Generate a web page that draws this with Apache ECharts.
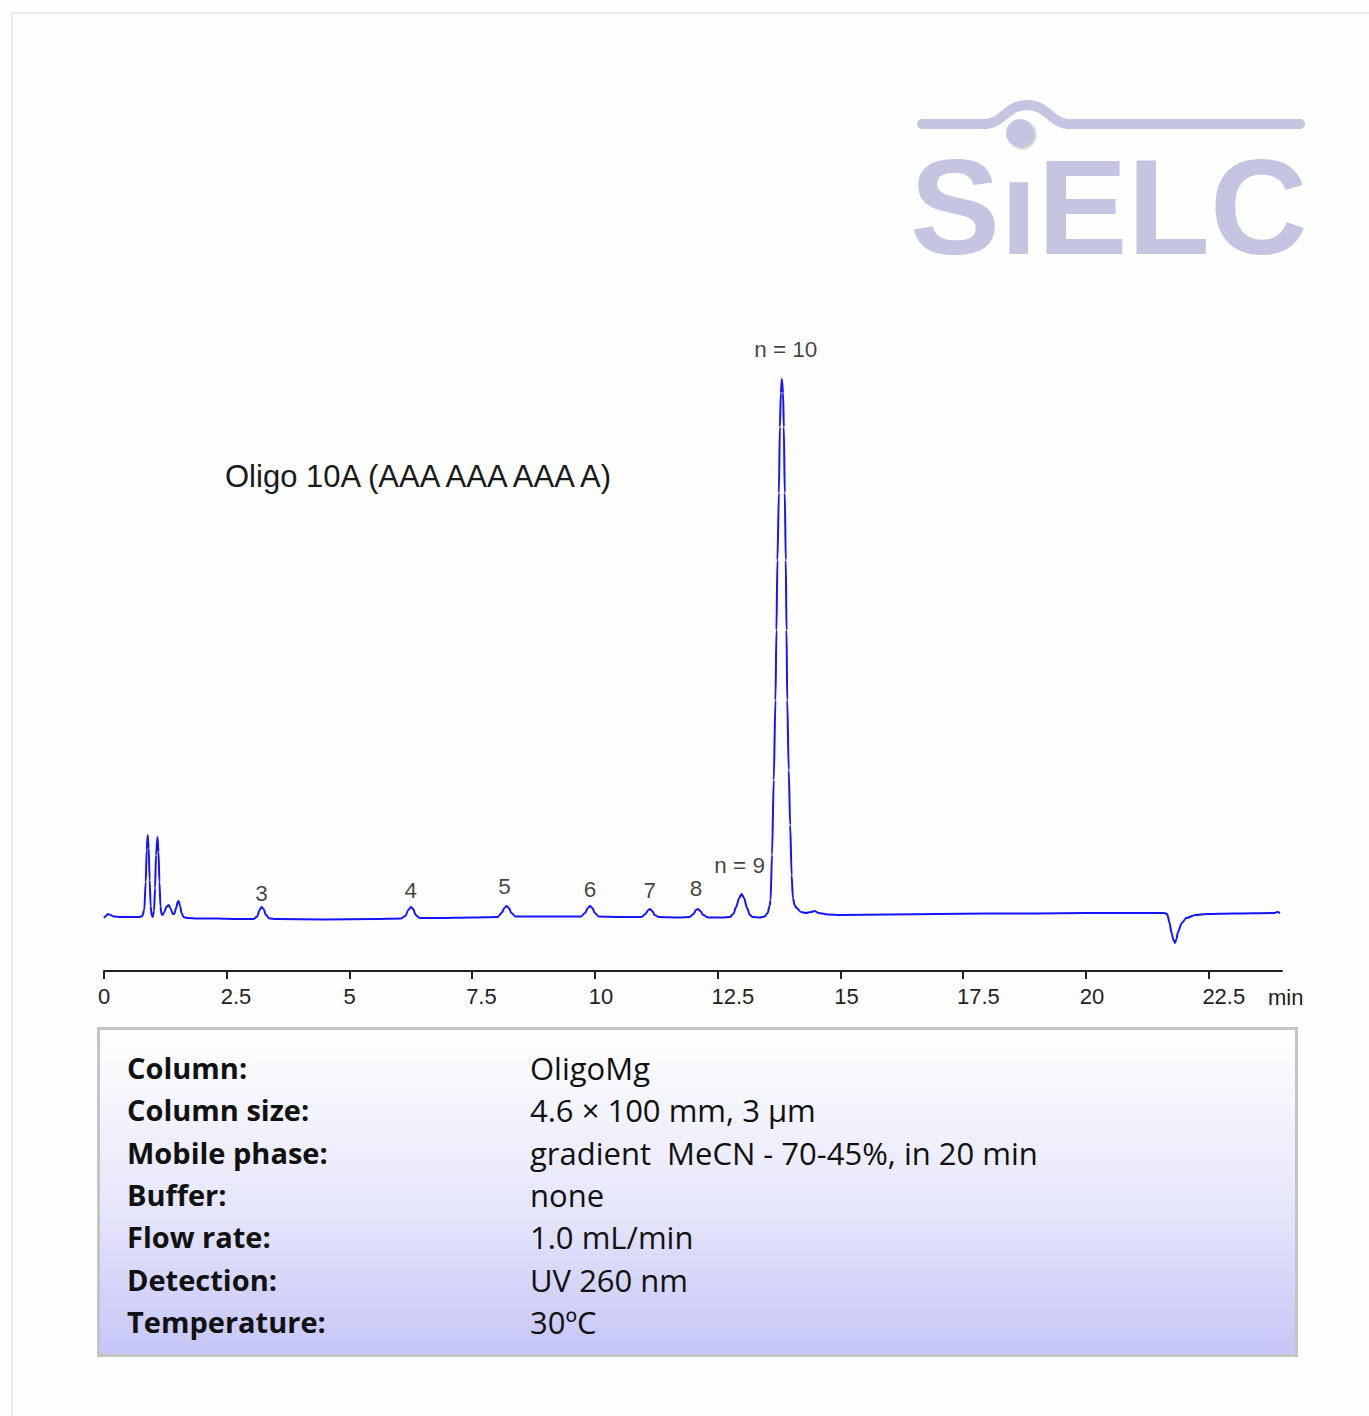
<!DOCTYPE html>
<html>
<head>
<meta charset="utf-8">
<script src="https://cdn.jsdelivr.net/npm/echarts@6/dist/echarts.min.js"></script>
<style>
  html, body { margin: 0; padding: 0; background: #fefefe; }
  #page { position: relative; width: 1369px; height: 1416px; overflow: hidden; background: #fefefe; }
  #frame { position: absolute; left: 11px; top: 12px; width: 1400px; height: 1450px; border: 2px solid #e9e9f3; box-sizing: border-box; }
  #chart { position: absolute; left: 0; top: 0; width: 1369px; height: 1416px; }
  #conds { position: absolute; left: 97px; top: 1027px; width: 1201px; height: 330px; box-sizing: border-box;
           border: 3px solid #c4c4c4; background: linear-gradient(to bottom, #ffffff 0%, #e6e6fb 55%, #c6c6f8 100%);
           font-family: "Open Sans", "Noto Sans", sans-serif; color: #111; }
  .row { position: absolute; left: 27px; height: 42px; line-height: 42px; white-space: pre; }
  .row b { position: absolute; left: 0; font-weight: 700; font-size: 29px; }
  .row span { position: absolute; left: 403px; font-size: 31px; }
</style>
</head>
<body>
<div id="page">
  <div id="frame"></div>
  <div id="chart"></div>
  <div id="conds"></div>
</div>
<script>
// ---- chromatogram trace (time in min, detector signal, arbitrary units) ----
const traceTime = [
  0.00, 0.04, 0.08, 0.13, 0.20, 0.35, 0.55, 0.72, 0.78, 0.82, 0.85, 0.87, 0.89, 0.91, 0.93, 0.95, 0.97, 0.99,
  1.02, 1.04, 1.06, 1.09, 1.11, 1.13, 1.15, 1.17, 1.19, 1.23, 1.27, 1.32, 1.36, 1.40, 1.43, 1.47, 1.50, 1.52,
  1.55, 1.58, 1.62, 1.70, 1.90, 2.30, 2.70, 3.05, 3.12, 3.17, 3.21, 3.25, 3.30, 3.37, 3.50, 4.50, 5.50,
  6.05, 6.14, 6.20, 6.25, 6.30, 6.35, 6.43, 6.80, 7.50, 8.02, 8.10, 8.16, 8.20, 8.25, 8.30, 8.38, 8.80,
  9.50, 9.72, 9.80, 9.86, 9.90, 9.95, 10.00, 10.08, 10.50, 10.95, 11.03, 11.09, 11.12, 11.17, 11.22, 11.30,
  11.70, 11.93, 12.01, 12.06, 12.10, 12.15, 12.21, 12.30, 12.60, 12.75, 12.82, 12.88, 12.94, 12.99, 13.04,
  13.10, 13.16, 13.22, 13.36, 13.46, 13.52, 13.56, 13.58, 13.61, 13.645, 13.68, 13.70, 13.72, 13.75, 13.77,
  13.79, 13.81, 13.835, 13.85, 13.87, 13.89, 13.905, 13.92, 13.95, 13.98, 14.01, 14.035, 14.07, 14.11, 14.20,
  14.30, 14.40, 14.48, 14.56, 14.75, 15.00, 16.00, 17.00, 18.00, 19.00, 20.00, 21.00, 21.60, 21.66, 21.71,
  21.75, 21.79, 21.82, 21.85, 21.88, 21.96, 22.05, 22.24, 22.46, 23.00, 23.85, 23.90, 23.96
];
const traceSignal = [
  2, 4, 6, 5, 3.5, 3, 3, 3, 4, 10, 38, 70, 85, 72, 40, 14, 5, 3,
  9, 32, 65, 83, 68, 38, 14, 6, 5, 8, 13, 15, 11, 6, 6, 12, 18, 19,
  14, 7, 3, 2, 1.5, 1.5, 1, 1, 3.5, 10, 13, 11, 5, 1.5, 1, 0.5, 1,
  1.5, 4, 10, 13, 11, 5, 2, 2, 2.5, 3, 7, 12, 14, 12, 7, 3.5, 3.5,
  3.5, 3.5, 7, 12, 14, 12, 7, 3.5, 3, 3, 6, 10, 11, 9, 5, 3,
  2.5, 3, 6, 10, 11, 9, 5, 2.5, 2.5, 3, 6, 13, 22, 26, 22,
  12, 5, 3, 2.5, 3.5, 7, 14, 20, 65, 140, 220, 290, 360, 427, 493,
  527, 541, 527, 493, 427, 360, 290, 220, 150, 95, 45, 22, 15, 12, 8,
  7, 8, 9, 7, 5.5, 5, 5.5, 6, 6.5, 6.5, 7, 7, 7, 6, -3,
  -13, -20, -23, -19, -12, -3, 2, 5, 6, 6.5, 7, 8, 7
];
// ---- peak annotations ----
const peakLabels = ['3', '4', '5', '6', '7', '8', 'n = 9', 'n = 10'];
const peakLabelTime = [3.21, 6.25, 8.16, 9.90, 11.12, 12.06, 12.95, 13.89];
const peakLabelSignal = [27, 30, 34, 31, 30, 32, 55, 571];
// ---- axis ----
const xMin = 0, xMax = 24, xStep = 2.5;
const xUnit = 'min';
const sampleTitle = 'Oligo 10A (AAA AAA AAA A)';
const logoText = 'S\u0131ELC';
// ---- conditions table ----
const condNames = ['Column:', 'Column size:', 'Mobile phase:', 'Buffer:', 'Flow rate:', 'Detection:', 'Temperature:'];
const condValues = ['OligoMg', '4.6 \u00d7 100 mm, 3 \u00b5m', 'gradient  MeCN - 70-45%, in 20 min', 'none', '1.0 mL/min', 'UV 260 nm', '30\u00baC'];

// table
const conds = document.getElementById('conds');
condNames.forEach((n, i) => {
  const r = document.createElement('div');
  r.className = 'row';
  r.style.top = (17 + i * 42.3) + 'px';
  const b = document.createElement('b'); b.textContent = n;
  const s = document.createElement('span'); s.textContent = condValues[i];
  r.appendChild(b); r.appendChild(s);
  conds.appendChild(r);
});

const chart = echarts.init(document.getElementById('chart'), null, { renderer: 'svg' });
const logoColor = '#c5c5e1';
const swooshStyle = { fill: null, stroke: logoColor, lineWidth: 10, lineCap: 'round' };
const fontArial = '"Liberation Sans", Arial, sans-serif';

chart.setOption({
  animation: false,
  backgroundColor: 'transparent',
  title: {
    text: sampleTitle, left: 225, top: 461, padding: 0,
    textStyle: { fontFamily: fontArial, fontSize: 31, fontWeight: 'normal', color: '#1a1a1a' }
  },
  grid: { left: 104, right: 87, top: 320, bottom: 466 },
  xAxis: {
    type: 'value', min: xMin, max: xMax, interval: xStep,
    offset: 21,
    name: xUnit, nameLocation: 'end', nameGap: -14,
    nameTextStyle: { fontFamily: fontArial, fontSize: 22, color: '#222', align: 'left', verticalAlign: 'top', padding: [15, 0, 0, 0] },
    axisLine: { onZero: false, lineStyle: { color: '#222', width: 2 } },
    axisTick: { show: true, inside: false, length: 8, lineStyle: { color: '#222', width: 2 } },
    axisLabel: { fontFamily: fontArial, fontSize: 22, color: '#222', margin: 14, showMaxLabel: false, align: 'left', padding: [0, 0, 0, -6] },
    splitLine: { show: false }
  },
  yAxis: { type: 'value', min: -30, max: 600, show: false },
  series: [
    {
      type: 'line',
      data: traceTime.map((t, i) => [t, traceSignal[i]]),
      showSymbol: false, symbol: 'none',
      smooth: 0.3, smoothMonotone: 'x',
      lineStyle: { color: '#1414ff', width: 2 },
      silent: true
    },
    {
      type: 'scatter',
      data: peakLabelTime.map((t, i) => ({ value: [t, peakLabelSignal[i]], name: peakLabels[i] })),
      symbolSize: 0,
      label: { show: true, position: 'inside', formatter: '{b}', fontFamily: fontArial, fontSize: 22.5, color: '#111' },
      silent: true
    }
  ],
  graphic: [
    { type: 'line', silent: true, shape: { x1: 922, y1: 124, x2: 986, y2: 124 }, style: swooshStyle },
    { type: 'bezierCurve', silent: true, shape: { x1: 985, y1: 124, cpx1: 1003, cpy1: 124, cpx2: 1006, cpy2: 105, x2: 1027, y2: 105 }, style: swooshStyle },
    { type: 'bezierCurve', silent: true, shape: { x1: 1027, y1: 105, cpx1: 1048, cpy1: 105, cpx2: 1051, cpy2: 124, x2: 1069, y2: 124 }, style: swooshStyle },
    { type: 'line', silent: true, shape: { x1: 1068, y1: 124, x2: 1300, y2: 124 }, style: swooshStyle },
    { type: 'circle', silent: true, shape: { cx: 1020, cy: 133, r: 14 },
      style: { fill: logoColor, shadowColor: 'rgba(90,90,110,0.35)', shadowBlur: 2, shadowOffsetX: 2, shadowOffsetY: 2 } },
    {
      type: 'text', x: 910, y: 207, silent: true,
      style: { text: logoText, font: 'bold 135px "Liberation Sans", Arial, sans-serif', fill: logoColor, align: 'left', verticalAlign: 'middle',
               shadowColor: 'rgba(90,90,110,0.35)', shadowBlur: 2, shadowOffsetX: 2, shadowOffsetY: 2 }
    }
  ]
});
</script>
</body>
</html>
